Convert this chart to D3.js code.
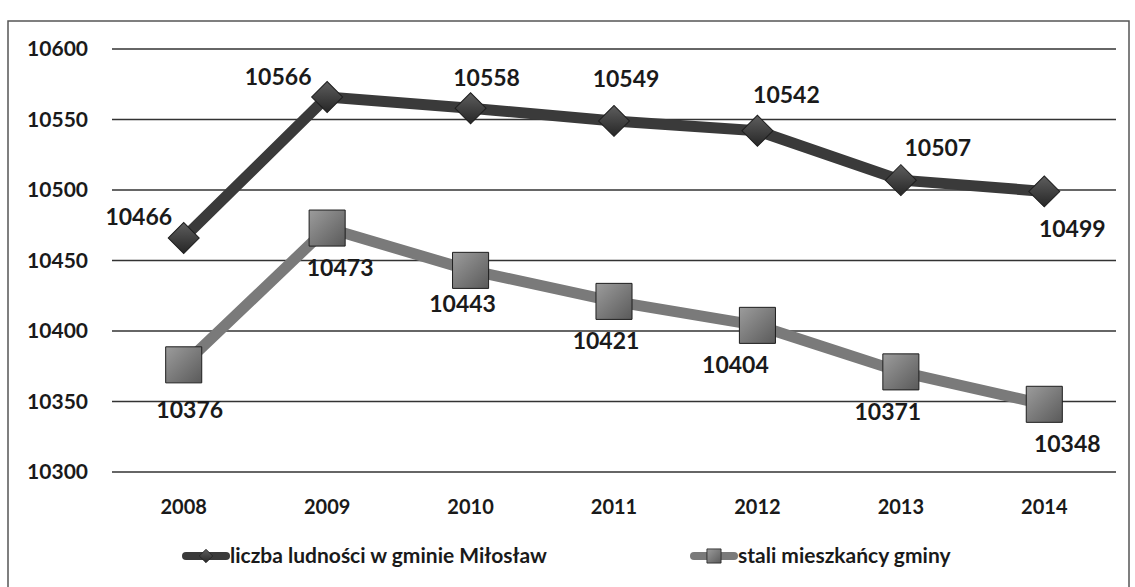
<!DOCTYPE html>
<html>
<head>
<meta charset="utf-8">
<script src="https://cdn.jsdelivr.net/npm/d3@7"></script>
<style>
  body { margin: 0; background: #fff; }
  text { font-family: Lato, "Open Sans", sans-serif; font-weight: bold; fill: #1a1a1a; }
</style>
</head>
<body>
<div class="chart"></div>
<script>
// data
var years = ["2008", "2009", "2010", "2011", "2012", "2013", "2014"];
var ludnosc = [10466, 10566, 10558, 10549, 10542, 10507, 10499];
var stali = [10376, 10473, 10443, 10421, 10404, 10371, 10348];
var yTicks = [10300, 10350, 10400, 10450, 10500, 10550, 10600];
var seriesNames = ["liczba ludności w gminie Miłosław", "stali mieszkańcy gminy"];

// label offsets (px) from each point, as placed in the original
var labelOffA = [[-45, -21], [-49, -20], [16, -30], [12, -42], [29, -36], [37, -32], [28, 38]];
var labelOffB = [[6, 45], [13, 40], [-8, 34], [-8, 40], [-22, 40], [-13, 40], [23, 40]];

var svgWidth = 1135, svgHeight = 587;
var margin = { top: 49, left: 112 };
var width = 1116 - margin.left;
var height = 472 - margin.top;

var svg = d3.select(".chart").append("svg")
    .attr("width", svgWidth)
    .attr("height", svgHeight);

var defs = svg.append("defs");
function grad(id, c1, c2) {
    var g = defs.append("linearGradient").attr("id", id)
        .attr("x1", "0").attr("y1", "0").attr("x2", "1").attr("y2", "1");
    g.append("stop").attr("offset", "0%").attr("stop-color", c1);
    g.append("stop").attr("offset", "100%").attr("stop-color", c2);
}
grad("gA", "#5e5e5e", "#262626");
grad("gB", "#9c9c9c", "#5a5a5a");

// outer frame
svg.append("rect")
    .attr("x", 8).attr("y", 21)
    .attr("width", 1121).attr("height", 580)
    .attr("fill", "none")
    .attr("stroke", "#555")
    .attr("stroke-width", 1.5);

var chart = svg.append("g")
    .attr("transform", "translate(" + margin.left + "," + margin.top + ")");

var x = d3.scaleBand().domain(years).range([0, width]);
var y = d3.scaleLinear().domain([10300, 10600]).range([height, 0]);

function cx(i) { return x(years[i]) + x.bandwidth() / 2; }

// gridlines
chart.selectAll(".grid")
    .data(yTicks)
    .enter()
    .append("line")
    .attr("x1", 0).attr("x2", width)
    .attr("y1", function(d) { return y(d); })
    .attr("y2", function(d) { return y(d); })
    .attr("stroke", "#333")
    .attr("stroke-width", 1.5);

// y tick labels
chart.selectAll(".ytick")
    .data(yTicks)
    .enter()
    .append("text")
    .attr("x", -24)
    .attr("y", function(d) { return y(d); })
    .attr("dy", "0.35em")
    .attr("text-anchor", "end")
    .style("font-size", "21px")
    .text(function(d) { return d; });

// x tick labels
chart.selectAll(".xtick")
    .data(years)
    .enter()
    .append("text")
    .attr("x", function(d) { return x(d) + x.bandwidth() / 2; })
    .attr("y", height + 35)
    .attr("dy", "0.35em")
    .attr("text-anchor", "middle")
    .style("font-size", "20px")
    .text(function(d) { return d; });

var line = d3.line()
    .x(function(d, i) { return cx(i); })
    .y(function(d) { return y(d); });

function drawSeries(values, key, color, fillId, diamond, size, offsets) {
    chart.append("path")
        .datum(values)
        .attr("d", line)
        .attr("fill", "none")
        .attr("stroke", color)
        .attr("stroke-width", 11)
        .attr("stroke-linejoin", "round");

    chart.selectAll(".m-" + key)
        .data(values)
        .enter()
        .append("path")
        .attr("d", d3.symbol().type(d3.symbolSquare).size(size))
        .attr("transform", function(d, i) {
            return "translate(" + cx(i) + "," + y(d) + ")" + (diamond ? " rotate(45)" : "");
        })
        .attr("fill", "url(#" + fillId + ")")
        .attr("stroke", "#1e1e1e")
        .attr("stroke-width", 1);

    chart.selectAll(".l-" + key)
        .data(values)
        .enter()
        .append("text")
        .attr("x", function(d, i) { return cx(i) + offsets[i][0]; })
        .attr("y", function(d, i) { return y(d) + offsets[i][1]; })
        .attr("dy", "0.35em")
        .attr("text-anchor", "middle")
        .style("font-size", "23px")
        .text(function(d) { return d; });
}

drawSeries(ludnosc, "a", "#3a3a3a", "gA", true, 480, labelOffA);
drawSeries(stali, "b", "#7a7a7a", "gB", false, 1300, labelOffB);

// legend
var legendX = [184, 692];
var legendColors = ["#3a3a3a", "#7a7a7a"];
var legendFill = ["gA", "gB"];
seriesNames.forEach(function(name, i) {
    var g = svg.append("g").attr("transform", "translate(" + legendX[i] + ",556)");
    g.append("line").attr("x1", 2).attr("x2", 42).attr("y1", 0).attr("y2", 0)
        .attr("stroke", legendColors[i]).attr("stroke-width", 8)
        .attr("stroke-linecap", "round");
    g.append("path")
        .attr("d", d3.symbol().type(d3.symbolSquare).size(i === 0 ? 90 : 200))
        .attr("transform", "translate(22,0)" + (i === 0 ? " rotate(45)" : ""))
        .attr("fill", "url(#" + legendFill[i] + ")")
        .attr("stroke", "#222").attr("stroke-width", 0.8);
    g.append("text").attr("x", 46).attr("y", 0).attr("dy", "0.35em")
        .style("font-size", "21px")
        .text(name);
});
</script>
</body>
</html>
